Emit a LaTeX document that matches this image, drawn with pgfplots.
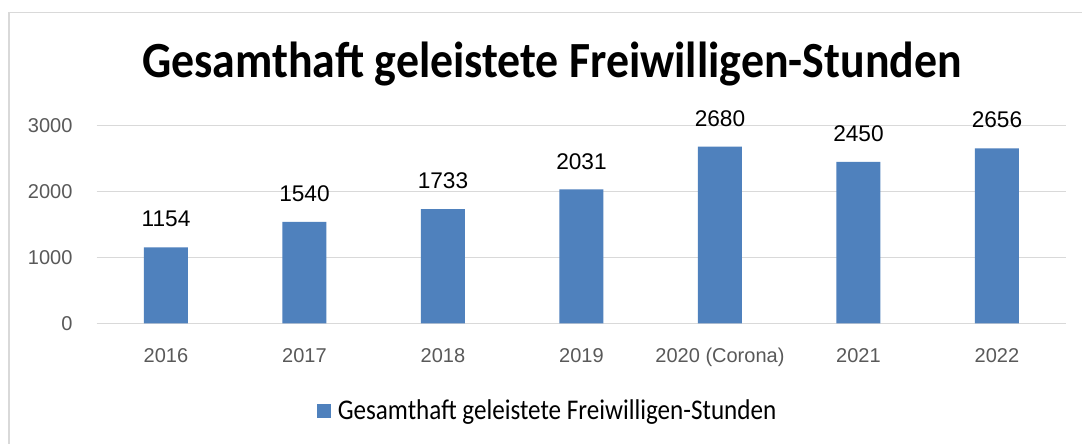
\documentclass[border=0pt]{standalone}
\usepackage{fontspec}
\setmainfont{Liberation Sans}
\newfontfamily\condfont[FakeStretch=0.88]{Carlito}
\newfontfamily\titlefont[FakeStretch=0.905]{Carlito}
\usepackage{pgfplots}
\pgfplotsset{compat=1.18}
\definecolor{barblue}{HTML}{4F81BD}
\definecolor{gridgray}{HTML}{D9D9D9}
\definecolor{tickgray}{HTML}{595959}
\begin{document}
\begin{tikzpicture}
\path[use as bounding box] (0,0) rectangle (811.5pt,332.25pt);
\fill[white] (0,0) rectangle (811.5pt,332.25pt);
\draw[gridgray, line width=1.2pt] (6.75pt,-2pt) -- (6.75pt,322.9pt) -- (813pt,322.9pt);
\node[anchor=base, inner sep=0pt, font=\titlefont\bfseries\fontsize{38}{40}\selectfont] at (414pt,273.75pt) {Gesamthaft geleistete Freiwilligen-Stunden};
\begin{axis}[
  at={(72.56pt,89.8pt)}, anchor=south west,
  scale only axis, width=727.1pt, height=148.2pt,
  ymin=0, ymax=3000, xmin=-0.5, xmax=6.5,
  ytick={0,1000,2000,3000},
  xtick={0,...,6},
  xticklabels={2016,2017,2018,2019,2020 (Corona),2021,2022},
  axis line style={draw=none},
  major tick length=0pt,
  ymajorgrids,
  grid style={gridgray, line width=1.1pt},
  /pgf/number format/assume math mode=true,
  /pgf/number format/1000 sep={},
  tick label style={font=\fontsize{15}{18}\selectfont, text=tickgray, inner sep=0pt},
  yticklabel style={anchor=east, xshift=-18pt},
  xticklabel style={anchor=north, yshift=-18.75pt, text height=10.74pt},
  ybar, bar width=33pt,
  nodes near coords,
  every node near coord/.append style={font=\fontsize{17}{20}\selectfont, text=black, inner sep=0pt, anchor=south, yshift=15pt},
  legend style={at={(0.4655,-0.444)}, anchor=center, draw=none, fill=none, font=\condfont\fontsize{21.4}{24}\selectfont, /tikz/every odd column/.append style={column sep=3pt}},
  legend image code/.code={\fill[barblue] (0pt,-5.25pt) rectangle (10.5pt,5.25pt);},
]
\addplot[fill=barblue, draw=none] coordinates {(0,1154) (1,1540) (2,1733) (3,2031) (4,2680) (5,2450) (6,2656)};
\addlegendentry{Gesamthaft geleistete Freiwilligen-Stunden}
\end{axis}
\end{tikzpicture}
\end{document}
